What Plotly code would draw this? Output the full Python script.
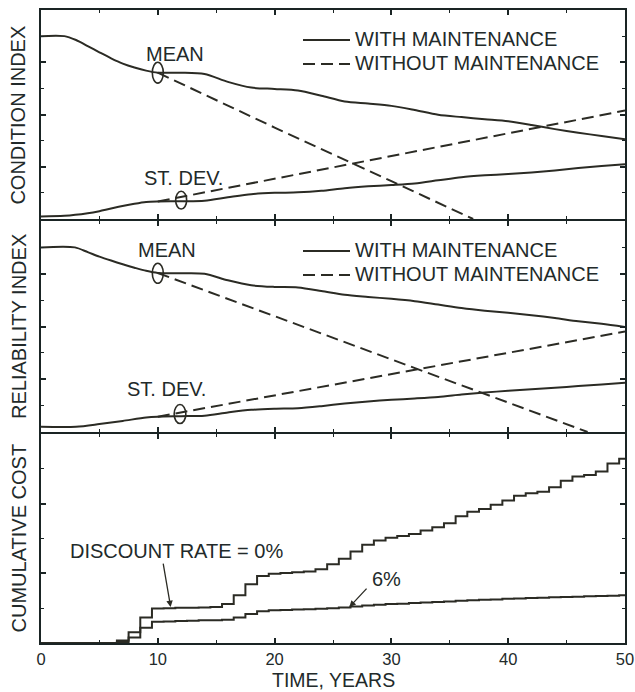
import plotly.graph_objects as go

# ---------------- data ----------------
# Condition index (top panel)
cond_mean_with_x = [0, 2, 3, 4, 5, 6, 7, 8, 9, 10, 12, 14, 16, 18, 20, 22, 24, 26, 28, 30, 32, 34, 36, 38, 40, 42, 44, 46, 48, 50]
cond_mean_with_y = [7.0, 7.0, 6.85, 6.62, 6.38, 6.15, 5.95, 5.8, 5.68, 5.6, 5.6, 5.55, 5.25, 5.03, 4.98, 4.92, 4.72, 4.5, 4.42, 4.33, 4.17, 3.99, 3.9, 3.82, 3.74, 3.6, 3.44, 3.3, 3.18, 3.05]
cond_mean_without_x = [10, 20, 30, 37]
cond_mean_without_y = [5.6, 3.5, 1.45, 0.0]
cond_sd_with_x = [0, 2, 4, 5, 6, 8, 9, 10, 12, 14, 16, 18, 20, 22, 24, 26, 28, 30, 32, 34, 36, 38, 40, 42, 44, 46, 48, 50]
cond_sd_with_y = [0.1, 0.12, 0.22, 0.3, 0.4, 0.58, 0.65, 0.67, 0.68, 0.7, 0.83, 0.95, 1.0, 1.02, 1.08, 1.18, 1.25, 1.3, 1.36, 1.48, 1.6, 1.67, 1.72, 1.78, 1.86, 1.95, 2.03, 2.1]
cond_sd_without_x = [10, 50]
cond_sd_without_y = [0.67, 4.15]

# Reliability index (middle panel)
rel_mean_with_x = [0, 2.9, 4, 5, 6, 7, 8, 9, 10, 12, 14, 16, 18, 20, 22, 24, 26, 28, 30, 32, 34, 36, 38, 40, 42, 44, 46, 48, 50]
rel_mean_with_y = [7.0, 7.0, 6.82, 6.65, 6.5, 6.36, 6.23, 6.11, 6.03, 6.02, 6.0, 5.75, 5.56, 5.5, 5.48, 5.35, 5.2, 5.12, 5.05, 4.96, 4.83, 4.7, 4.6, 4.52, 4.43, 4.32, 4.2, 4.1, 3.98]
rel_mean_without_x = [10, 46.8]
rel_mean_without_y = [6.03, 0.0]
rel_sd_with_x = [0, 3, 5, 7, 9, 10, 12, 14, 16, 18, 20, 22, 24, 26, 28, 30, 32, 34, 36, 38, 40, 42, 44, 46, 48, 50]
rel_sd_with_y = [0.2, 0.2, 0.3, 0.42, 0.55, 0.58, 0.6, 0.62, 0.74, 0.84, 0.88, 0.9, 0.98, 1.08, 1.16, 1.22, 1.27, 1.33, 1.42, 1.5, 1.56, 1.62, 1.68, 1.74, 1.8, 1.87]
rel_sd_without_x = [10, 50]
rel_sd_without_y = [0.58, 3.81]

# Cumulative cost (bottom panel), annual steps
cost_years = [0, 6.5, 7.5, 8.5, 9.5, 10.5, 11.5, 12.5, 13.5, 14.5, 15.5, 16.5, 17.5, 18.5, 19.5,
              20.5, 21.5, 22.5, 23.5, 24.5, 25.5, 26.5, 27.5, 28.5, 29.5, 30.5, 31.5, 32.5, 33.5, 34.5,
              35.5, 36.5, 37.5, 38.5, 39.5, 40.5, 41.5, 42.5, 43.5, 44.5, 45.5, 46.5, 47.5, 48.5, 49.5, 50]
cost_0pct = [0, 0.07, 0.31, 0.73, 0.99, 1.0, 1.01, 1.01, 1.02, 1.03, 1.12, 1.37, 1.69, 1.92, 1.99,
             2.01, 2.03, 2.05, 2.12, 2.26, 2.42, 2.63, 2.82, 2.94, 3.02, 3.07, 3.13, 3.23, 3.32, 3.44,
             3.64, 3.77, 3.85, 3.97, 4.09, 4.23, 4.30, 4.34, 4.47, 4.66, 4.78, 4.82, 4.92, 5.15, 5.29, 5.29]
cost_6pct = [0, 0.03, 0.16, 0.44, 0.61, 0.62, 0.63, 0.64, 0.65, 0.65, 0.67, 0.73, 0.83, 0.91, 0.94,
             0.95, 0.96, 0.97, 0.98, 1.0, 1.02, 1.05, 1.08, 1.1, 1.12, 1.13, 1.15, 1.16, 1.18, 1.19,
             1.21, 1.23, 1.24, 1.25, 1.27, 1.28, 1.29, 1.3, 1.31, 1.32, 1.33, 1.34, 1.35, 1.36, 1.37, 1.37]

# ellipse markers (center x, center y, half-width, half-height) per panel
cond_ellipses = [(10.0, 5.6, 0.47, 0.40), (12.0, 0.72, 0.47, 0.34)]
rel_ellipses = [(10.0, 6.02, 0.47, 0.38), (11.9, 0.68, 0.5, 0.36)]

x_ticks = [0, 10, 20, 30, 40, 50]
legend_names = ["WITH MAINTENANCE", "WITHOUT MAINTENANCE"]

# ---------------- style ----------------
LINE = "#2b2b24"
AXC = "#1a2424"
TXT = "#222a2a"
FONT = "Liberation Sans, Arial, sans-serif"
DASH = "12px,6px"
FS = 20
H = 633.0  # plot-area height in px


def leg_name(s):
    return '<span style="font-size:%dpx">%s</span>' % (FS, s)


fig = go.Figure()


def add_line(x, y, xa, ya, dash=None, shape="spline", name=None, legend=None, showlegend=False):
    fig.add_trace(go.Scatter(
        x=x, y=y, xaxis=xa, yaxis=ya, mode="lines",
        line=dict(color=LINE, width=2, dash=dash, shape=shape, smoothing=0.8 if shape == "spline" else None),
        name=name, legend=legend, showlegend=showlegend, hoverinfo="skip"))


# top panel
add_line(cond_mean_with_x, cond_mean_with_y, "x", "y", name=leg_name(legend_names[0]), legend="legend", showlegend=True)
add_line(cond_mean_without_x, cond_mean_without_y, "x", "y", dash=DASH, shape="linear",
         name=leg_name(legend_names[1]), legend="legend", showlegend=True)
add_line(cond_sd_with_x, cond_sd_with_y, "x", "y")
add_line(cond_sd_without_x, cond_sd_without_y, "x", "y", dash=DASH, shape="linear")

# middle panel
add_line(rel_mean_with_x, rel_mean_with_y, "x2", "y2", name=leg_name(legend_names[0]), legend="legend2", showlegend=True)
add_line(rel_mean_without_x, rel_mean_without_y, "x2", "y2", dash=DASH, shape="linear",
         name=leg_name(legend_names[1]), legend="legend2", showlegend=True)
add_line(rel_sd_with_x, rel_sd_with_y, "x2", "y2")
add_line(rel_sd_without_x, rel_sd_without_y, "x2", "y2", dash=DASH, shape="linear")

# bottom panel
add_line(cost_years, cost_0pct, "x3", "y3", shape="hv")
add_line(cost_years, cost_6pct, "x3", "y3", shape="hv")

# ellipses
for (cx, cy, rx, ry) in cond_ellipses:
    fig.add_shape(type="circle", xref="x", yref="y", x0=cx - rx, x1=cx + rx, y0=cy - ry, y1=cy + ry,
                  line=dict(color=LINE, width=1.6))
for (cx, cy, rx, ry) in rel_ellipses:
    fig.add_shape(type="circle", xref="x2", yref="y2", x0=cx - rx, x1=cx + rx, y0=cy - ry, y1=cy + ry,
                  line=dict(color=LINE, width=1.6))


# annotations
def txt(text, x, y, xref, yref, size=FS, **kw):
    fig.add_annotation(text=text, x=x, y=y, xref=xref, yref=yref, showarrow=False,
                       font=dict(family=FONT, size=size, color=TXT), **kw)


txt("MEAN", 11.47, 6.3, "x", "y")
txt("ST. DEV.", 12.2, 1.58, "x", "y")
txt("MEAN", 10.83, 6.9, "x2", "y2")
txt("ST. DEV.", 10.75, 1.64, "x2", "y2")
txt("DISCOUNT RATE = 0%", 11.56, 2.64, "x3", "y3")
txt("6%", 29.54, 1.84, "x3", "y3")

fig.add_annotation(text="", x=11.1, y=1.03, xref="x3", yref="y3", showarrow=True,
                   ax=-7.7, ay=-45, arrowhead=2, arrowsize=1, arrowwidth=1.3, arrowcolor=LINE)
fig.add_annotation(text="", x=26.4, y=1.03, xref="x3", yref="y3", showarrow=True,
                   ax=18.6, ay=-20, arrowhead=2, arrowsize=1, arrowwidth=1.3, arrowcolor=LINE)

# axis titles
txt("CONDITION INDEX", -0.0385, 0.834, "paper", "paper", textangle=-90, xanchor="center", yanchor="middle")
txt("RELIABILITY INDEX", -0.0385, 0.5, "paper", "paper", textangle=-90, xanchor="center", yanchor="middle")
txt("CUMULATIVE COST", -0.0385, 0.166, "paper", "paper", textangle=-90, xanchor="center", yanchor="middle")
txt("TIME, YEARS", 0.5, -0.0585, "paper", "paper", size=19.5, xanchor="center", yanchor="middle")

axis_common = dict(showline=True, linewidth=2, linecolor=AXC, mirror="allticks", ticks="inside",
                   ticklen=5, tickwidth=1.6, tickcolor=AXC, showgrid=False, zeroline=False)


def xax(domain_anchor, labels):
    return dict(range=[0, 50], tickvals=x_ticks, anchor=domain_anchor, showticklabels=labels,
                minor=dict(dtick=5, tick0=0, ticks="inside", ticklen=3, tickwidth=1.4, tickcolor=AXC, showgrid=False),
                tickfont=dict(family=FONT, size=16.5, color=TXT), **axis_common)


def yax(domain, rng, anchor):
    return dict(range=rng, domain=domain, dtick=2, tick0=0, anchor=anchor, showticklabels=False,
                minor=dict(dtick=1, tick0=0, ticks="inside", ticklen=3, tickwidth=1.4, tickcolor=AXC, showgrid=False),
                **axis_common)


leg_common = dict(xanchor="left", yanchor="top", bgcolor="rgba(0,0,0,0)",
                  font=dict(family=FONT, size=16.2, color=TXT), itemwidth=47, tracegroupgap=0)

b1 = (643 - 220) / H   # top/middle boundary
b2 = (643 - 433) / H   # middle/bottom boundary
g = 1.0 / H            # half line width, so neighbouring frame lines overlap

fig.update_layout(
    width=635, height=692,
    margin=dict(l=41, r=10, t=10, b=49, autoexpand=False),
    paper_bgcolor="white", plot_bgcolor="white",
    font=dict(family=FONT, color=TXT),
    xaxis=xax("y", False), xaxis2=xax("y2", False), xaxis3=xax("y3", True),
    yaxis=yax([b1 + g, 1.0], [0, 8], "x"),
    yaxis2=yax([b2 + g, b1 - g], [0, 8], "x2"),
    yaxis3=yax([0.0, b2 - g], [0, 6], "x3"),
    legend=dict(x=(298 - 41) / 584, y=(643 - 23) / H, **leg_common),
    legend2=dict(x=(298 - 41) / 584, y=(643 - 234) / H, **leg_common),
    showlegend=True,
)

fig.write_html("out.html")
